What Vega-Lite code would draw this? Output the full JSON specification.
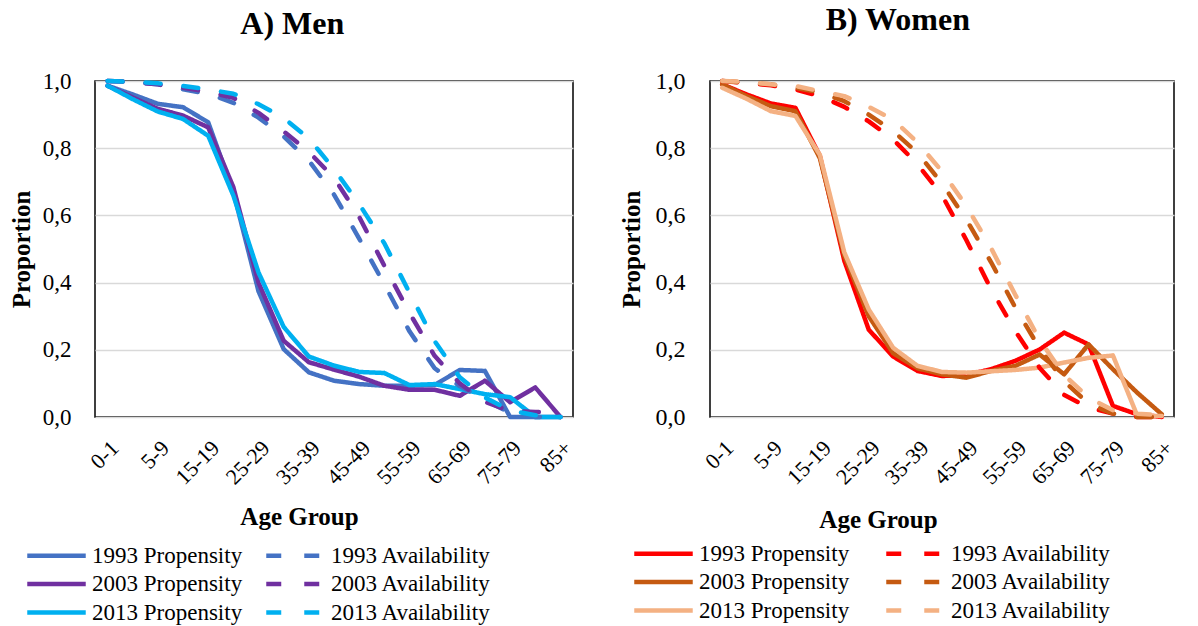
{
"$schema": "https://vega.github.io/schema/vega-lite/v6.json",
"background": "white",
"padding": {"left": 8, "top": 3, "right": 5, "bottom": 0},
"config": {
 "font": "Liberation Serif",
 "view": {"stroke": "black", "strokeWidth": 1.5},
 "axis": {"labelFont": "Liberation Serif", "titleFont": "Liberation Serif", "labelColor": "black", "titleColor": "black", "domain": false, "ticks": false, "labelFontSize": 22, "titleFontSize": 25, "titleFontWeight": "bold"},
 "axisY": {"gridColor": "#D9D9D9", "gridWidth": 1.5},
 "title": {"font": "Liberation Serif", "fontSize": 32, "fontWeight": "bold", "color": "black", "frame": "bounds", "anchor": "middle"},
 "legend": {"title": null, "labelFont": "Liberation Serif", "labelFontSize": 23, "labelColor": "black", "symbolType": "stroke", "symbolSize": 3422, "symbolStrokeWidth": 4.5, "labelOffset": 4, "columns": 2, "clipHeight": 23, "rowPadding": 4.5, "orient": "none"},
 "concat": {"spacing": 41}
},
"datasets": {
 "men": [
  {"age":"0-1","series":"1993 Propensity","value":0.986},{"age":"1-4","series":"1993 Propensity","value":0.96},{"age":"5-9","series":"1993 Propensity","value":0.932},{"age":"10-14","series":"1993 Propensity","value":0.922},{"age":"15-19","series":"1993 Propensity","value":0.877},{"age":"20-24","series":"1993 Propensity","value":0.67},{"age":"25-29","series":"1993 Propensity","value":0.374},{"age":"30-34","series":"1993 Propensity","value":0.202},{"age":"35-39","series":"1993 Propensity","value":0.133},{"age":"40-44","series":"1993 Propensity","value":0.108},{"age":"45-49","series":"1993 Propensity","value":0.098},{"age":"50-54","series":"1993 Propensity","value":0.093},{"age":"55-59","series":"1993 Propensity","value":0.093},{"age":"60-64","series":"1993 Propensity","value":0.095},{"age":"65-69","series":"1993 Propensity","value":0.14},{"age":"70-74","series":"1993 Propensity","value":0.137},{"age":"75-79","series":"1993 Propensity","value":0.0},{"age":"80-84","series":"1993 Propensity","value":0.0},{"age":"85+","series":"1993 Propensity","value":0.0},
  {"age":"0-1","series":"2003 Propensity","value":0.986},{"age":"1-4","series":"2003 Propensity","value":0.951},{"age":"5-9","series":"2003 Propensity","value":0.917},{"age":"10-14","series":"2003 Propensity","value":0.897},{"age":"15-19","series":"2003 Propensity","value":0.862},{"age":"20-24","series":"2003 Propensity","value":0.684},{"age":"25-29","series":"2003 Propensity","value":0.4},{"age":"30-34","series":"2003 Propensity","value":0.227},{"age":"35-39","series":"2003 Propensity","value":0.163},{"age":"40-44","series":"2003 Propensity","value":0.141},{"age":"45-49","series":"2003 Propensity","value":0.12},{"age":"50-54","series":"2003 Propensity","value":0.093},{"age":"55-59","series":"2003 Propensity","value":0.081},{"age":"60-64","series":"2003 Propensity","value":0.081},{"age":"65-69","series":"2003 Propensity","value":0.063},{"age":"70-74","series":"2003 Propensity","value":0.108},{"age":"75-79","series":"2003 Propensity","value":0.044},{"age":"80-84","series":"2003 Propensity","value":0.088},{"age":"85+","series":"2003 Propensity","value":0.0},
  {"age":"0-1","series":"2013 Propensity","value":0.986},{"age":"1-4","series":"2013 Propensity","value":0.946},{"age":"5-9","series":"2013 Propensity","value":0.909},{"age":"10-14","series":"2013 Propensity","value":0.887},{"age":"15-19","series":"2013 Propensity","value":0.837},{"age":"20-24","series":"2013 Propensity","value":0.659},{"age":"25-29","series":"2013 Propensity","value":0.43},{"age":"30-34","series":"2013 Propensity","value":0.268},{"age":"35-39","series":"2013 Propensity","value":0.18},{"age":"40-44","series":"2013 Propensity","value":0.153},{"age":"45-49","series":"2013 Propensity","value":0.134},{"age":"50-54","series":"2013 Propensity","value":0.131},{"age":"55-59","series":"2013 Propensity","value":0.095},{"age":"60-64","series":"2013 Propensity","value":0.098},{"age":"65-69","series":"2013 Propensity","value":0.083},{"age":"70-74","series":"2013 Propensity","value":0.068},{"age":"75-79","series":"2013 Propensity","value":0.059},{"age":"80-84","series":"2013 Propensity","value":0.0},{"age":"85+","series":"2013 Propensity","value":0.0},
  {"age":"0-1","series":"1993 Availability","value":1.0},{"age":"1-4","series":"1993 Availability","value":0.997},{"age":"5-9","series":"1993 Availability","value":0.99},{"age":"10-14","series":"1993 Availability","value":0.975},{"age":"15-19","series":"1993 Availability","value":0.962},{"age":"20-24","series":"1993 Availability","value":0.935},{"age":"25-29","series":"1993 Availability","value":0.891},{"age":"30-34","series":"1993 Availability","value":0.835},{"age":"35-39","series":"1993 Availability","value":0.763},{"age":"40-44","series":"1993 Availability","value":0.662},{"age":"45-49","series":"1993 Availability","value":0.531},{"age":"50-54","series":"1993 Availability","value":0.395},{"age":"55-59","series":"1993 Availability","value":0.255},{"age":"60-64","series":"1993 Availability","value":0.145},{"age":"65-69","series":"1993 Availability","value":0.092},{"age":"70-74","series":"1993 Availability","value":0.051},{"age":"75-79","series":"1993 Availability","value":0.012},{"age":"80-84","series":"1993 Availability","value":0.0},{"age":"85+","series":"1993 Availability","value":0.0},
  {"age":"0-1","series":"2003 Availability","value":1.0},{"age":"1-4","series":"2003 Availability","value":0.997},{"age":"5-9","series":"2003 Availability","value":0.99},{"age":"10-14","series":"2003 Availability","value":0.98},{"age":"15-19","series":"2003 Availability","value":0.968},{"age":"20-24","series":"2003 Availability","value":0.95},{"age":"25-29","series":"2003 Availability","value":0.905},{"age":"30-34","series":"2003 Availability","value":0.85},{"age":"35-39","series":"2003 Availability","value":0.789},{"age":"40-44","series":"2003 Availability","value":0.712},{"age":"45-49","series":"2003 Availability","value":0.596},{"age":"50-54","series":"2003 Availability","value":0.45},{"age":"55-59","series":"2003 Availability","value":0.31},{"age":"60-64","series":"2003 Availability","value":0.182},{"age":"65-69","series":"2003 Availability","value":0.1},{"age":"70-74","series":"2003 Availability","value":0.045},{"age":"75-79","series":"2003 Availability","value":0.018},{"age":"80-84","series":"2003 Availability","value":0.015},{"age":"85+","series":"2003 Availability","value":0.015},
  {"age":"0-1","series":"2013 Availability","value":1.0},{"age":"1-4","series":"2013 Availability","value":0.998},{"age":"5-9","series":"2013 Availability","value":0.993},{"age":"10-14","series":"2013 Availability","value":0.985},{"age":"15-19","series":"2013 Availability","value":0.975},{"age":"20-24","series":"2013 Availability","value":0.962},{"age":"25-29","series":"2013 Availability","value":0.931},{"age":"30-34","series":"2013 Availability","value":0.89},{"age":"35-39","series":"2013 Availability","value":0.829},{"age":"40-44","series":"2013 Availability","value":0.738},{"age":"45-49","series":"2013 Availability","value":0.634},{"age":"50-54","series":"2013 Availability","value":0.517},{"age":"55-59","series":"2013 Availability","value":0.37},{"age":"60-64","series":"2013 Availability","value":0.226},{"age":"65-69","series":"2013 Availability","value":0.118},{"age":"70-74","series":"2013 Availability","value":0.058},{"age":"75-79","series":"2013 Availability","value":0.02},{"age":"80-84","series":"2013 Availability","value":0.005},{"age":"85+","series":"2013 Availability","value":0.0}
 ],
 "women": [
  {"age":"0-1","series":"1993 Propensity","value":0.99},{"age":"1-4","series":"1993 Propensity","value":0.96},{"age":"5-9","series":"1993 Propensity","value":0.933},{"age":"10-14","series":"1993 Propensity","value":0.92},{"age":"15-19","series":"1993 Propensity","value":0.777},{"age":"20-24","series":"1993 Propensity","value":0.465},{"age":"25-29","series":"1993 Propensity","value":0.26},{"age":"30-34","series":"1993 Propensity","value":0.18},{"age":"35-39","series":"1993 Propensity","value":0.137},{"age":"40-44","series":"1993 Propensity","value":0.122},{"age":"45-49","series":"1993 Propensity","value":0.125},{"age":"50-54","series":"1993 Propensity","value":0.142},{"age":"55-59","series":"1993 Propensity","value":0.167},{"age":"60-64","series":"1993 Propensity","value":0.201},{"age":"65-69","series":"1993 Propensity","value":0.251},{"age":"70-74","series":"1993 Propensity","value":0.216},{"age":"75-79","series":"1993 Propensity","value":0.033},{"age":"80-84","series":"1993 Propensity","value":0.008},{"age":"85+","series":"1993 Propensity","value":0.0},
  {"age":"0-1","series":"2003 Propensity","value":0.99},{"age":"1-4","series":"2003 Propensity","value":0.955},{"age":"5-9","series":"2003 Propensity","value":0.925},{"age":"10-14","series":"2003 Propensity","value":0.91},{"age":"15-19","series":"2003 Propensity","value":0.77},{"age":"20-24","series":"2003 Propensity","value":0.48},{"age":"25-29","series":"2003 Propensity","value":0.3},{"age":"30-34","series":"2003 Propensity","value":0.19},{"age":"35-39","series":"2003 Propensity","value":0.145},{"age":"40-44","series":"2003 Propensity","value":0.127},{"age":"45-49","series":"2003 Propensity","value":0.117},{"age":"50-54","series":"2003 Propensity","value":0.137},{"age":"55-59","series":"2003 Propensity","value":0.152},{"age":"60-64","series":"2003 Propensity","value":0.186},{"age":"65-69","series":"2003 Propensity","value":0.127},{"age":"70-74","series":"2003 Propensity","value":0.216},{"age":"75-79","series":"2003 Propensity","value":0.142},{"age":"80-84","series":"2003 Propensity","value":0.072},{"age":"85+","series":"2003 Propensity","value":0.008},
  {"age":"0-1","series":"2013 Propensity","value":0.98},{"age":"1-4","series":"2013 Propensity","value":0.947},{"age":"5-9","series":"2013 Propensity","value":0.91},{"age":"10-14","series":"2013 Propensity","value":0.896},{"age":"15-19","series":"2013 Propensity","value":0.78},{"age":"20-24","series":"2013 Propensity","value":0.49},{"age":"25-29","series":"2013 Propensity","value":0.32},{"age":"30-34","series":"2013 Propensity","value":0.206},{"age":"35-39","series":"2013 Propensity","value":0.152},{"age":"40-44","series":"2013 Propensity","value":0.134},{"age":"45-49","series":"2013 Propensity","value":0.132},{"age":"50-54","series":"2013 Propensity","value":0.136},{"age":"55-59","series":"2013 Propensity","value":0.14},{"age":"60-64","series":"2013 Propensity","value":0.147},{"age":"65-69","series":"2013 Propensity","value":0.162},{"age":"70-74","series":"2013 Propensity","value":0.176},{"age":"75-79","series":"2013 Propensity","value":0.183},{"age":"80-84","series":"2013 Propensity","value":0.003},{"age":"85+","series":"2013 Propensity","value":0.003},
  {"age":"0-1","series":"1993 Availability","value":1.0},{"age":"1-4","series":"1993 Availability","value":0.994},{"age":"5-9","series":"1993 Availability","value":0.987},{"age":"10-14","series":"1993 Availability","value":0.975},{"age":"15-19","series":"1993 Availability","value":0.955},{"age":"20-24","series":"1993 Availability","value":0.923},{"age":"25-29","series":"1993 Availability","value":0.88},{"age":"30-34","series":"1993 Availability","value":0.826},{"age":"35-39","series":"1993 Availability","value":0.752},{"age":"40-44","series":"1993 Availability","value":0.66},{"age":"45-49","series":"1993 Availability","value":0.526},{"age":"50-54","series":"1993 Availability","value":0.382},{"age":"55-59","series":"1993 Availability","value":0.256},{"age":"60-64","series":"1993 Availability","value":0.146},{"age":"65-69","series":"1993 Availability","value":0.066},{"age":"70-74","series":"1993 Availability","value":0.028},{"age":"75-79","series":"1993 Availability","value":0.01},{"age":"80-84","series":"1993 Availability","value":0.0},{"age":"85+","series":"1993 Availability","value":0.0},
  {"age":"0-1","series":"2003 Availability","value":1.0},{"age":"1-4","series":"2003 Availability","value":0.995},{"age":"5-9","series":"2003 Availability","value":0.99},{"age":"10-14","series":"2003 Availability","value":0.98},{"age":"15-19","series":"2003 Availability","value":0.966},{"age":"20-24","series":"2003 Availability","value":0.94},{"age":"25-29","series":"2003 Availability","value":0.9},{"age":"30-34","series":"2003 Availability","value":0.851},{"age":"35-39","series":"2003 Availability","value":0.786},{"age":"40-44","series":"2003 Availability","value":0.695},{"age":"45-49","series":"2003 Availability","value":0.587},{"age":"50-54","series":"2003 Availability","value":0.462},{"age":"55-59","series":"2003 Availability","value":0.326},{"age":"60-64","series":"2003 Availability","value":0.204},{"age":"65-69","series":"2003 Availability","value":0.106},{"age":"70-74","series":"2003 Availability","value":0.04},{"age":"75-79","series":"2003 Availability","value":0.01},{"age":"80-84","series":"2003 Availability","value":0.0},{"age":"85+","series":"2003 Availability","value":0.0},
  {"age":"0-1","series":"2013 Availability","value":1.0},{"age":"1-4","series":"2013 Availability","value":0.997},{"age":"5-9","series":"2013 Availability","value":0.99},{"age":"10-14","series":"2013 Availability","value":0.985},{"age":"15-19","series":"2013 Availability","value":0.97},{"age":"20-24","series":"2013 Availability","value":0.955},{"age":"25-29","series":"2013 Availability","value":0.923},{"age":"30-34","series":"2013 Availability","value":0.885},{"age":"35-39","series":"2013 Availability","value":0.817},{"age":"40-44","series":"2013 Availability","value":0.731},{"age":"45-49","series":"2013 Availability","value":0.628},{"age":"50-54","series":"2013 Availability","value":0.504},{"age":"55-59","series":"2013 Availability","value":0.364},{"age":"60-64","series":"2013 Availability","value":0.229},{"age":"65-69","series":"2013 Availability","value":0.125},{"age":"70-74","series":"2013 Availability","value":0.058},{"age":"75-79","series":"2013 Availability","value":0.02},{"age":"80-84","series":"2013 Availability","value":0.01},{"age":"85+","series":"2013 Availability","value":0.005}
 ]
},
"hconcat": [
 {
  "title": {"text": "A) Men", "offset": 29},
  "width": 478, "height": 336,
  "data": {"name": "men"},
  "mark": {"type": "line", "strokeWidth": 4.5, "strokeCap": "round", "strokeJoin": "round"},
  "encoding": {
   "x": {"field": "age", "type": "ordinal", "sort": ["0-1","1-4","5-9","10-14","15-19","20-24","25-29","30-34","35-39","40-44","45-49","50-54","55-59","60-64","65-69","70-74","75-79","80-84","85+"], "scale": {"padding": 0.5},
    "axis": {"values": ["0-1","5-9","15-19","25-29","35-39","45-49","55-59","65-69","75-79","85+"], "labelAngle": -45, "labelPadding": 20, "title": "Age Group", "titleX": 204, "titleY": 99, "titleAlign": "center", "titleBaseline": "middle", "grid": false}},
   "y": {"field": "value", "type": "quantitative", "scale": {"domain": [0, 1]},
    "axis": {"values": [0, 0.2, 0.4, 0.6, 0.8, 1], "labelExpr": "replace(format(datum.value, '.1f'), '.', ',')", "title": "Proportion", "labelFontSize": 23, "labelPadding": 24, "titlePadding": 8, "grid": true}},
   "color": {"field": "series", "type": "nominal",
    "scale": {"domain": ["1993 Propensity","2003 Propensity","2013 Propensity","1993 Availability","2003 Availability","2013 Availability"], "range": ["#4472C4","#7030A0","#00B0F0","#4472C4","#7030A0","#00B0F0"]},
    "legend": {"orient": "none", "legendX": -70, "legendY": 463, "columns": 2, "columnPadding": 21}},
   "strokeDash": {"field": "series", "type": "nominal",
    "scale": {"domain": ["1993 Propensity","2003 Propensity","2013 Propensity","1993 Availability","2003 Availability","2013 Availability"], "range": [[1,0],[1,0],[1,0],[15,23],[15,23],[15,23]]},
    "legend": {"orient": "none", "legendX": -70, "legendY": 463, "columns": 2, "columnPadding": 21}}
  }
 },
 {
  "title": {"text": "B) Women", "offset": 32},
  "width": 464, "height": 336,
  "data": {"name": "women"},
  "mark": {"type": "line", "strokeWidth": 4.5, "strokeCap": "round", "strokeJoin": "round"},
  "encoding": {
   "x": {"field": "age", "type": "ordinal", "sort": ["0-1","1-4","5-9","10-14","15-19","20-24","25-29","30-34","35-39","40-44","45-49","50-54","55-59","60-64","65-69","70-74","75-79","80-84","85+"], "scale": {"padding": 0.5},
    "axis": {"values": ["0-1","5-9","15-19","25-29","35-39","45-49","55-59","65-69","75-79","85+"], "labelAngle": -45, "labelPadding": 20, "title": "Age Group", "titleX": 168, "titleY": 102, "titleAlign": "center", "titleBaseline": "middle", "grid": false}},
   "y": {"field": "value", "type": "quantitative", "scale": {"domain": [0, 1]},
    "axis": {"values": [0, 0.2, 0.4, 0.6, 0.8, 1], "labelExpr": "replace(format(datum.value, '.1f'), '.', ',')", "title": "Proportion", "labelFontSize": 24, "labelPadding": 25, "titlePadding": 11, "grid": true}},
   "color": {"field": "series", "type": "nominal",
    "scale": {"domain": ["1993 Propensity","2003 Propensity","2013 Propensity","1993 Availability","2003 Availability","2013 Availability"], "range": ["#FF0000","#C55A11","#F4B183","#FF0000","#C55A11","#F4B183"]},
    "legend": {"orient": "none", "legendX": -78, "legendY": 461, "columns": 2, "columnPadding": 34}},
   "strokeDash": {"field": "series", "type": "nominal",
    "scale": {"domain": ["1993 Propensity","2003 Propensity","2013 Propensity","1993 Availability","2003 Availability","2013 Availability"], "range": [[1,0],[1,0],[1,0],[15,23],[15,23],[15,23]]},
    "legend": {"orient": "none", "legendX": -78, "legendY": 461, "columns": 2, "columnPadding": 34}}
  }
 }
],
"resolve": {"scale": {"x": "independent", "color": "independent", "strokeDash": "independent"}, "legend": {"color": "independent", "strokeDash": "independent"}}
}
